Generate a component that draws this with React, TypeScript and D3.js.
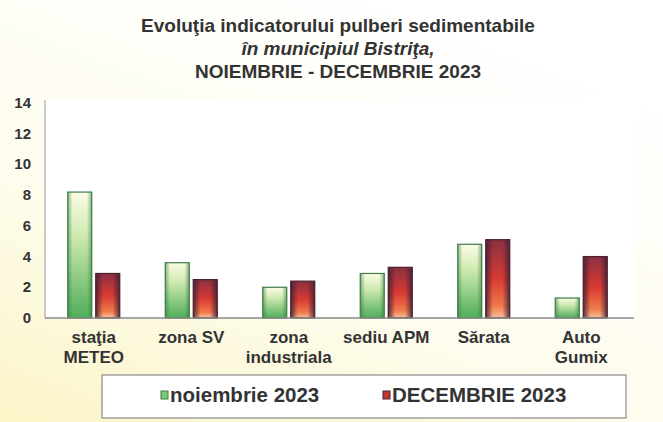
import React from "react";
import * as d3 from "d3";

const categories = [["staţia", "METEO"], ["zona SV"], ["zona", "industriala"], ["sediu APM"], ["Sărata"], ["Auto", "Gumix"]];
const noiembrie = [8.2, 3.6, 2.0, 2.9, 4.8, 1.3];
const decembrie = [2.9, 2.5, 2.4, 3.3, 5.1, 4.0];
const yTicks = [0, 2, 4, 6, 8, 10, 12, 14];
const seriesNames = ["noiembrie 2023", "DECEMBRIE 2023"];

const W = 663, H = 422;
const font = "Liberation Sans, Arial, sans-serif";

export default function App() {
  const x = d3.scaleBand<number>().domain(d3.range(categories.length)).range([45, 630]);
  const y = d3.scaleLinear().domain([0, 14]).range([318, 103]);
  const bw = 24, gap = 4;
  return (
    <svg width={W} height={H} style={{ position: "absolute", left: 0, top: 0 }}>
      <defs>
        <linearGradient id="bg" x1="0" y1="1" x2="0.6" y2="0">
          <stop offset="0" stopColor="#fbf5c8" />
          <stop offset="0.45" stopColor="#fefcee" />
          <stop offset="1" stopColor="#ffffff" />
        </linearGradient>
        <linearGradient id="gV" x1="0" y1="0" x2="0" y2="1">
          <stop offset="0" stopColor="#fbfde6" />
          <stop offset="0.35" stopColor="#cfe9b0" />
          <stop offset="1" stopColor="#4fae5a" />
        </linearGradient>
        <linearGradient id="gH" x1="0" y1="0" x2="1" y2="0">
          <stop offset="0" stopColor="#2f7d3a" stopOpacity="0.55" />
          <stop offset="0.2" stopColor="#2f7d3a" stopOpacity="0" />
          <stop offset="0.8" stopColor="#2f7d3a" stopOpacity="0" />
          <stop offset="1" stopColor="#2f7d3a" stopOpacity="0.55" />
        </linearGradient>
        <linearGradient id="rV" x1="0" y1="0" x2="0" y2="1">
          <stop offset="0" stopColor="#8a3040" />
          <stop offset="0.5" stopColor="#d93a33" />
          <stop offset="0.85" stopColor="#f07a4a" />
          <stop offset="1" stopColor="#f7c09a" />
        </linearGradient>
        <linearGradient id="rH" x1="0" y1="0" x2="1" y2="0">
          <stop offset="0" stopColor="#4a2035" stopOpacity="0.9" />
          <stop offset="0.3" stopColor="#4a2035" stopOpacity="0" />
          <stop offset="0.7" stopColor="#4a2035" stopOpacity="0" />
          <stop offset="1" stopColor="#4a2035" stopOpacity="0.9" />
        </linearGradient>
      </defs>
      <rect x={0} y={0} width={W} height={H} fill="url(#bg)" />
      <rect x={45} y={100} width={590} height={218} fill="#ffffff" />
      <g fontFamily={font} fontWeight="bold" fill="#333" textAnchor="middle" fontSize={19}>
        <text x={338} y={32}>Evoluţia indicatorului pulberi sedimentabile</text>
        <text x={338} y={55} fontStyle="italic">în municipiul Bistriţa,</text>
        <text x={338} y={78}>NOIEMBRIE - DECEMBRIE 2023</text>
      </g>
      <g fontFamily={font} fontWeight="bold" fill="#333" fontSize={15} textAnchor="end">
        {yTicks.map((t) => (
          <text key={t} x={31} y={y(t) + 5}>{t}</text>
        ))}
      </g>
      {categories.map((c, i) => {
        const cx = (x(i) as number) + x.bandwidth() / 2;
        const gx = cx - gap / 2 - bw, rx = cx + gap / 2;
        const gy = y(noiembrie[i]), ry = y(decembrie[i]);
        return (
          <g key={i}>
            <rect x={gx} y={gy} width={bw} height={y(0) - gy} fill="url(#gV)" />
            <rect x={gx} y={gy} width={bw} height={y(0) - gy} fill="url(#gH)" stroke="#3f7b45" strokeWidth={1.2} />
            <rect x={rx} y={ry} width={bw} height={y(0) - ry} fill="url(#rV)" />
            <rect x={rx} y={ry} width={bw} height={y(0) - ry} fill="url(#rH)" stroke="#4a2232" strokeWidth={1.2} />
            <text x={cx} fontFamily={font} fontWeight="bold" fontSize={17} fill="#333" textAnchor="middle">
              {c.map((l, j) => (
                <tspan key={j} x={cx} y={343 + j * 20}>{l}</tspan>
              ))}
            </text>
          </g>
        );
      })}
      <line x1={45} x2={45} y1={100} y2={318} stroke="#9a9a9a" strokeWidth={1} />
      <line x1={45} x2={634} y1={318} y2={318} stroke="#8a8a8a" strokeWidth={1.5} />
      <rect x={102} y={375} width={524} height={43} fill="#ffffff" stroke="#8a8a8a" strokeWidth={1.2} />
      <rect x={161} y={391} width={7} height={8} fill="#7cc77a" stroke="#3f7b45" strokeWidth={1} />
      <rect x={383} y={391} width={7} height={8} fill="#c0393a" stroke="#4a2232" strokeWidth={1} />
      <g fontFamily={font} fontWeight="bold" fontSize={20.5} fill="#333">
        <text x={170} y={402}>{seriesNames[0]}</text>
        <text x={392} y={402}>{seriesNames[1]}</text>
      </g>
    </svg>
  );
}
